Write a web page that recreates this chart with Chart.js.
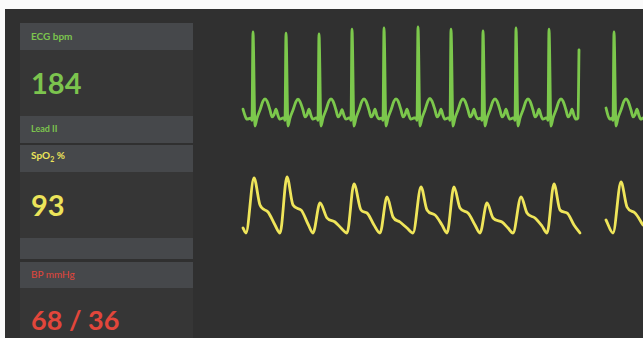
<!DOCTYPE html>
<html>
<head>
<meta charset="utf-8">
<script src="https://cdn.jsdelivr.net/npm/chart.js@4/dist/chart.umd.min.js"></script>
<style>
  html, body { margin: 0; padding: 0; background: #fafafa; }
  body { width: 643px; height: 338px; position: relative; overflow: hidden; font-family: Lato, "Open Sans", sans-serif; }
  .screen { position: absolute; left: 5px; top: 9px; width: 638px; height: 329px; background: #303030; }
  .box { position: absolute; left: 20px; width: 173px; }
  .head { background: #46484b; }
  .val { background: #363636; }
  .lbl { position: absolute; left: 11px; font-size: 10px; font-weight: 700; }
  .num { position: absolute; left: 11px; font-size: 29px; font-weight: 700; }
  .green { color: #7cc44e; }
  .yellow { color: #ece45a; }
  .red { color: #e2463b; }
  canvas { position: absolute; }
</style>
</head>
<body>
<div class="screen"></div>

<div class="box head" style="top:23px;height:27px"><span class="lbl green" style="top:7px">ECG bpm</span></div>
<div class="box val" style="top:50px;height:66px"><span class="num green" style="top:15px">184</span></div>
<div class="box head" style="top:116px;height:27px"><span class="lbl green" style="top:7px;font-size:9px">Lead II</span></div>

<div class="box head" style="top:145px;height:27px"><span class="lbl yellow" style="top:4px">SpO<sub style="font-size:7px">2</sub> %</span></div>
<div class="box val" style="top:172px;height:66px"><span class="num yellow" style="top:15px">93</span></div>
<div class="box head" style="top:238px;height:21px"></div>

<div class="box head" style="top:262px;height:26px"><span class="lbl red" style="top:6px;font-weight:400">BP mmHg</span></div>
<div class="box val" style="top:288px;height:50px"><span class="num red" style="top:15px;font-size:27px;font-weight:700">68 / 36</span></div>

<canvas id="ecg" width="413" height="120" style="left:230px;top:20px"></canvas>
<canvas id="pleth" width="413" height="90" style="left:230px;top:160px"></canvas>

<script>
'use strict'

// ECG lead II, time in ms, amplitude in mV (null = sweep gap)
const ecgTime = [
  130,150,170,210,220,
  230,250,270,300,330,350,370,400,420,440,460,480,500,530,
  540,550,560,580,600,630,660,680,700,730,750,770,790,810,830,860,
  870,880,890,910,930,960,990,1010,1030,1060,1080,1100,1120,1140,1160,1190,
  1200,1210,1220,1240,1260,1290,1320,1340,1360,1390,1410,1430,1450,1470,1490,
  1520,1530,1540,1560,1580,1610,1640,1660,1680,1710,1730,1750,1770,1790,1810,1840,
  1860,1870,1880,1900,1920,1950,1980,2000,2020,2050,2070,2090,2110,2130,2150,2180,
  2190,2200,2210,2230,2250,2280,2310,2330,2350,2380,2400,2420,2440,2460,2480,
  2510,2520,2530,2550,2570,2600,2630,2650,2670,2700,2720,2740,2760,2780,2800,2830,
  2840,2850,2860,2880,2900,2930,2960,2980,3000,3030,3050,3070,3090,3110,3130,3160,
  3170,3180,3190,3210,3230,3260,3290,3310,3330,3360,3380,3400,3420,3440,3460,
  3480,3490,
  3600,
  3760,3780,3800,3820,3830,3840,3860,3880,3910,3940,3960,3980,4010,4030,4050,4070,4090,4110,4130
];
const ecgMv = [
  0.22,0.06,-0.03,0,-0.06,
  2.15,-0.2,0,0.2,0.42,0.48,0.42,0.2,0.03,0.08,0.22,0.06,-0.03,0,
  0,-0.06,2.12,-0.2,0,0.2,0.41,0.47,0.41,0.2,0.03,0.08,0.22,0.06,-0.03,0,
  0,-0.06,2.10,-0.2,0,0.2,0.42,0.48,0.42,0.2,0.03,0.08,0.21,0.06,-0.03,0,
  0,-0.06,2.22,-0.2,0,0.2,0.42,0.48,0.42,0.2,0.03,0.08,0.22,0.05,-0.02,
  0,-0.06,2.25,-0.2,0,0.2,0.42,0.48,0.43,0.2,0.03,0.08,0.22,0.06,-0.03,0,
  0,-0.06,2.28,-0.2,0,0.2,0.43,0.49,0.42,0.2,0.03,0.08,0.22,0.06,-0.03,0,
  0,-0.06,2.22,-0.2,0,0.2,0.42,0.48,0.42,0.2,0.03,0.08,0.22,0.05,-0.02,
  0,-0.06,2.18,-0.2,0,0.2,0.42,0.48,0.42,0.2,0.03,0.08,0.22,0.06,-0.03,0,
  0,-0.06,2.25,-0.2,0,0.2,0.42,0.48,0.42,0.2,0.03,0.08,0.22,0.06,-0.03,0,
  0,-0.06,2.22,-0.2,0,0.2,0.42,0.48,0.42,0.2,0.03,0.08,0.22,0.06,-0.03,
  0,1.70,
  null,
  0.25,0.06,-0.03,0,-0.06,2.15,-0.2,0,0.2,0.42,0.48,0.42,0.2,0.03,0.08,0.22,0.06,-0.03,0
];

// SpO2 plethysmograph, time in ms, amplitude in arbitrary units
const plethTime = [
  130,160,240,300,380,450,500,570,630,710,780,830,900,970,1050,1110,1170,
  1240,1310,1370,1440,1500,1570,1630,1700,1770,1830,1910,1970,2050,2120,2170,
  2240,2300,2380,2450,2500,2570,2630,2720,2780,2830,2910,2970,3050,3120,3170,
  3240,3300,3370,3440,3500,
  3600,
  3760,3830,3910,3970,4050,4130
];
const plethVal = [
  22,17,72,45,38,25,17,73,45,40,26,17,47,32,28,22,17,
  66,40,37,25,17,53,33,28,22,17,63,40,35,25,17,
  63,42,37,25,17,47,32,28,22,17,53,37,32,24,17,
  66,40,37,25,17,
  null,
  30,17,68,43,37,25
];

// split a trace into runs at the null markers (the sweep gap)
function toRuns(xs, ys){
    const runs = [[]];
    xs.forEach((x, i) => {
        if(ys[i] === null){
            runs.push([]);
        } else {
            runs[runs.length - 1].push({x: x, y: ys[i]});
        }
    });
    return runs;
}

function drawTrace(id, runs, color, width, yMin, yMax){
    new Chart(document.getElementById(id), {
        type: 'line',
        data: {
            datasets: runs.map(points => ({
                data: points,
                borderColor: color,
                borderWidth: width,
                pointRadius: 0,
                tension: 0.35,
                cubicInterpolationMode: 'monotone',
                clip: false,
                borderCapStyle: 'round',
                borderJoinStyle: 'round'
            }))
        },
        options: {
            responsive: false,
            animation: false,
            events: [],
            layout: { padding: 0 },
            plugins: { legend: { display: false }, tooltip: { enabled: false } },
            scales: {
                x: { type: 'linear', min: 0, max: 4130, display: false },
                y: { min: yMin, max: yMax, display: false }
            }
        }
    });
}

drawTrace('ecg', toRuns(ecgTime, ecgMv), '#7cc84c', 2.8, -0.55, 2.45);
drawTrace('pleth', toRuns(plethTime, plethVal), '#efe55a', 2.8, 0, 90);
</script>
</body>
</html>
